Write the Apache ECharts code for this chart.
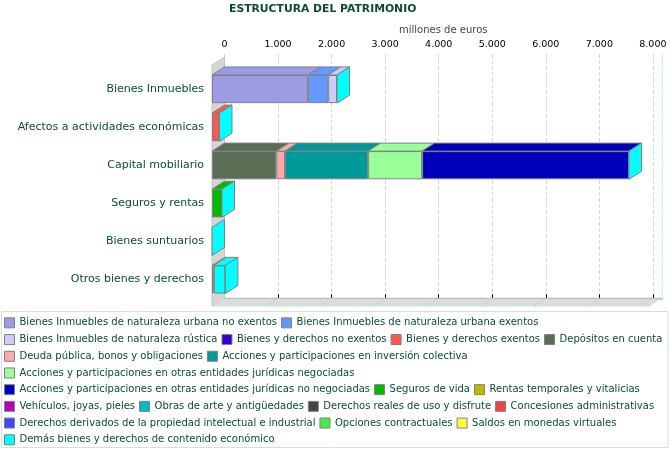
<!DOCTYPE html>
<html>
<head>
<meta charset="utf-8">
<script src="https://cdn.jsdelivr.net/npm/echarts@6/dist/echarts.min.js"></script>
<style>
html, body { margin: 0; padding: 0; background: #fff; }
#chart { width: 670px; height: 450px; }
</style>
</head>
<body>
<div id="chart"></div>
<script>
var categories = ['Bienes Inmuebles', 'Afectos a actividades económicas', 'Capital mobiliario',
    'Seguros y rentas', 'Bienes suntuarios', 'Otros bienes y derechos'];

var seriesNames = [
    'Bienes Inmuebles de naturaleza urbana no exentos',
    'Bienes Inmuebles de naturaleza urbana exentos',
    'Bienes Inmuebles de naturaleza rústica',
    'Bienes y derechos no exentos',
    'Bienes y derechos exentos',
    'Depósitos en cuenta',
    'Deuda pública, bonos y obligaciones',
    'Acciones y participaciones en inversión colectiva',
    'Acciones y participaciones en otras entidades jurídicas negociadas',
    'Acciones y participaciones en otras entidades jurídicas no negociadas',
    'Seguros de vida',
    'Rentas temporales y vitalicias',
    'Vehículos, joyas, pieles',
    'Obras de arte y antigüedades',
    'Derechos reales de uso y disfrute',
    'Concesiones administrativas',
    'Derechos derivados de la propiedad intelectual e industrial',
    'Opciones contractuales',
    'Saldos en monedas virtuales',
    'Demás bienes y derechos de contenido económico'
];

var seriesColors = ['#9c9ce4', '#6699ff', '#ccccff', '#3300cc', '#ff5555', '#5a6e56',
    '#ffaaaa', '#009999', '#99ff99', '#0000bb', '#00bb00', '#bbbb00', '#bb00bb',
    '#00bbbb', '#444444', '#ee4444', '#4444ff', '#44ee44', '#ffff44', '#00ffff'];

// millones de euros, one value per category
var urbanaNoExentos = [1795, 0, 0, 0, 0, 0];
var urbanaExentos = [375, 0, 0, 0, 0, 0];
var rustica = [165, 0, 0, 0, 0, 0];
var derechosNoExentos = [0, 0, 0, 0, 0, 0];
var derechosExentos = [0, 140, 0, 0, 0, 0];
var depositos = [0, 0, 1204, 0, 0, 0];
var deudaPublica = [0, 0, 160, 0, 0, 0];
var inversionColectiva = [0, 0, 1551, 0, 0, 0];
var accionesNegociadas = [0, 0, 1009, 0, 0, 0];
var accionesNoNegociadas = [0, 0, 3864, 0, 0, 0];
var segurosVida = [0, 0, 0, 187, 0, 0];
var rentasTemporales = [0, 0, 0, 0, 0, 0];
var vehiculos = [0, 0, 0, 0, 0, 0];
var obrasArte = [0, 0, 0, 0, 0, 0];
var derechosReales = [0, 0, 0, 0, 0, 0];
var concesiones = [0, 0, 0, 0, 0, 0];
var propiedadIntelectual = [0, 0, 0, 0, 0, 0];
var opciones = [0, 0, 0, 0, 0, 0];
var monedasVirtuales = [0, 0, 0, 0, 0, 35];
var demasBienes = [0, 0, 0, 0, 0, 215];

var axisMax = 8170;
var axisStep = 1000;

var seriesData = [urbanaNoExentos, urbanaExentos, rustica, derechosNoExentos, derechosExentos,
    depositos, deudaPublica, inversionColectiva, accionesNegociadas, accionesNoNegociadas,
    segurosVida, rentasTemporales, vehiculos, obrasArte, derechosReales, concesiones,
    propiedadIntelectual, opciones, monedasVirtuales, demasBienes];

var DX = 12.5, DY = -8;
var FONT = 'DejaVu Sans';
var TEXT = '#0d4a3a';

function fmt(v) {
    return String(v).replace(/\B(?=(\d{3})+(?!\d))/g, '.');
}

// walls and floor of the pseudo 3d box (back grid)
function renderWalls(params, api) {
    var cs = params.coordSys;
    var x0 = cs.x, x1 = cs.x + cs.width, y0 = cs.y + 3, y1 = cs.y + cs.height;
    var kids = [];
    kids.push({
        type: 'polygon',
        shape: { points: [[x0, y0], [x0, y1], [x0 - DX, y1 - DY], [x0 - DX, y0 - DY]] },
        style: { fill: '#d6d6d6', stroke: '#c4c4c4', lineWidth: 1 }
    });
    kids.push({
        type: 'polygon',
        shape: { points: [[x0, y1], [x1, y1], [x1 - DX, y1 - DY], [x0 - DX, y1 - DY]] },
        style: { fill: '#dcdcdc' }
    });
    kids.push({
        type: 'line',
        shape: { x1: x0, y1: y1, x2: x1, y2: y1 },
        style: { stroke: '#b4b4b4', lineWidth: 1 }
    });
    kids.push({
        type: 'line',
        shape: { x1: x0 - DX, y1: y1 - DY, x2: x1 - DX, y2: y1 - DY },
        style: { stroke: '#ccf2f2', lineWidth: 1 }
    });
    kids.push({
        type: 'line',
        shape: { x1: x1, y1: cs.y, x2: x1, y2: y1 },
        style: { stroke: '#ccffff', lineWidth: 1 }
    });
    for (var v = axisStep; v < axisMax; v += axisStep) {
        var px = api.coord([v, 0])[0];
        kids.push({
            type: 'line',
            shape: { x1: px, y1: y1, x2: px - DX, y2: y1 - DY },
            style: { stroke: '#c4c4c4', lineWidth: 1, lineDash: [2, 2] }
        });
    }
    return { type: 'group', children: kids };
}

// top faces of each segment + the cyan end face
function renderFaces(params, api) {
    var ci = api.value(1);
    var band = api.size([0, 1])[1];
    var barH = band * 0.74;
    var yc = api.coord([0, ci])[1];
    var yT = yc - barH / 2, yB = yc + barH / 2;
    var kids = [];
    var acc = 0;
    seriesData.forEach(function(arr, si) {
        var v = arr[ci];
        if (!v) return;
        var xa = api.coord([acc, ci])[0];
        acc += v;
        var xb = api.coord([acc, ci])[0];
        kids.push({
            type: 'polygon',
            shape: { points: [[xa, yT], [xb, yT], [xb + DX, yT + DY], [xa + DX, yT + DY]] },
            style: { fill: seriesColors[si], stroke: '#808080', lineWidth: 1 }
        });
    });
    var xe = api.coord([acc, ci])[0];
    kids.push({
        type: 'polygon',
        shape: { points: [[xe, yT], [xe + DX, yT + DY], [xe + DX, yB + DY], [xe, yB]] },
        style: { fill: seriesColors[seriesColors.length - 1], stroke: '#808080', lineWidth: 1 }
    });
    return { type: 'group', children: kids };
}

var series = seriesData.map(function(arr, si) {
    return {
        name: seriesNames[si],
        type: 'bar',
        stack: 'total',
        xAxisIndex: 0,
        yAxisIndex: 0,
        barWidth: '74%',
        z: 3,
        itemStyle: { color: seriesColors[si], borderColor: '#808080', borderWidth: 1 },
        data: arr.map(function(v) { return v ? v : null; })
    };
});

series.unshift({
    type: 'custom',
    xAxisIndex: 1,
    yAxisIndex: 1,
    z: 1,
    silent: true,
    renderItem: renderWalls,
    data: [[0, 0]]
});

series.push({
    type: 'custom',
    xAxisIndex: 0,
    yAxisIndex: 0,
    z: 4,
    silent: true,
    clip: false,
    renderItem: renderFaces,
    encode: { x: 0, y: 1 },
    data: categories.map(function(c, i) {
        var t = 0;
        seriesData.forEach(function(arr) { t += arr[i]; });
        return [t, i];
    })
});

var chart = echarts.init(document.getElementById('chart'));
chart.setOption({
    animation: false,
    textStyle: { fontFamily: FONT },
    title: {
        text: 'ESTRUCTURA DEL PATRIMONIO',
        left: 229,
        top: 4,
        padding: 0,
        textStyle: { fontFamily: FONT, fontSize: 10.8, fontWeight: 'bold', color: TEXT }
    },
    graphic: [{
        type: 'rect',
        shape: { x: 1.5, y: 311.5, width: 666.5, height: 136 },
        style: { fill: 'none', stroke: '#dcdcdc', lineWidth: 1 },
        z: -1
    }],
    legend: {
        left: 4,
        top: 316.5,
        width: 664,
        padding: 0,
        itemGap: 4,
        itemWidth: 10,
        itemHeight: 10,
        icon: 'rect',
        data: seriesNames,
        itemStyle: { borderColor: '#808080', borderWidth: 1 },
        textStyle: { fontFamily: FONT, fontSize: 10, lineHeight: 12.7, color: TEXT }
    },
    grid: [
        { left: 212, right: 20.5, top: 70, bottom: 151.5 },
        { left: 224.5, right: 8, top: 54, bottom: 151.7 }
    ],
    xAxis: [{
        gridIndex: 0,
        type: 'value',
        min: 0,
        max: axisMax,
        show: false
    }, {
        gridIndex: 1,
        type: 'value',
        position: 'top',
        min: 0,
        max: axisMax,
        interval: axisStep,
        name: 'millones de euros',
        nameLocation: 'middle',
        nameGap: 18,
        nameTextStyle: { fontFamily: FONT, fontSize: 10, color: '#444' },
        axisLine: { show: true, lineStyle: { color: '#00ffff', width: 1.5 } },
        axisTick: { show: true, length: 4, lineStyle: { color: '#000' } },
        axisLabel: {
            margin: 4,
            fontFamily: FONT,
            fontSize: 9.5,
            color: '#000',
            showMaxLabel: false,
            formatter: fmt
        },
        splitLine: { show: true, lineStyle: { color: '#d8d8d8', type: 'dashed' } }
    }],
    yAxis: [{
        gridIndex: 0,
        type: 'category',
        inverse: true,
        data: categories,
        axisLine: { show: false },
        axisTick: { show: false },
        axisLabel: { margin: 8, fontFamily: FONT, fontSize: 11, color: TEXT }
    }, {
        gridIndex: 1,
        type: 'value',
        min: 0,
        max: 1,
        show: false
    }],
    series: series
});
</script>
</body>
</html>
